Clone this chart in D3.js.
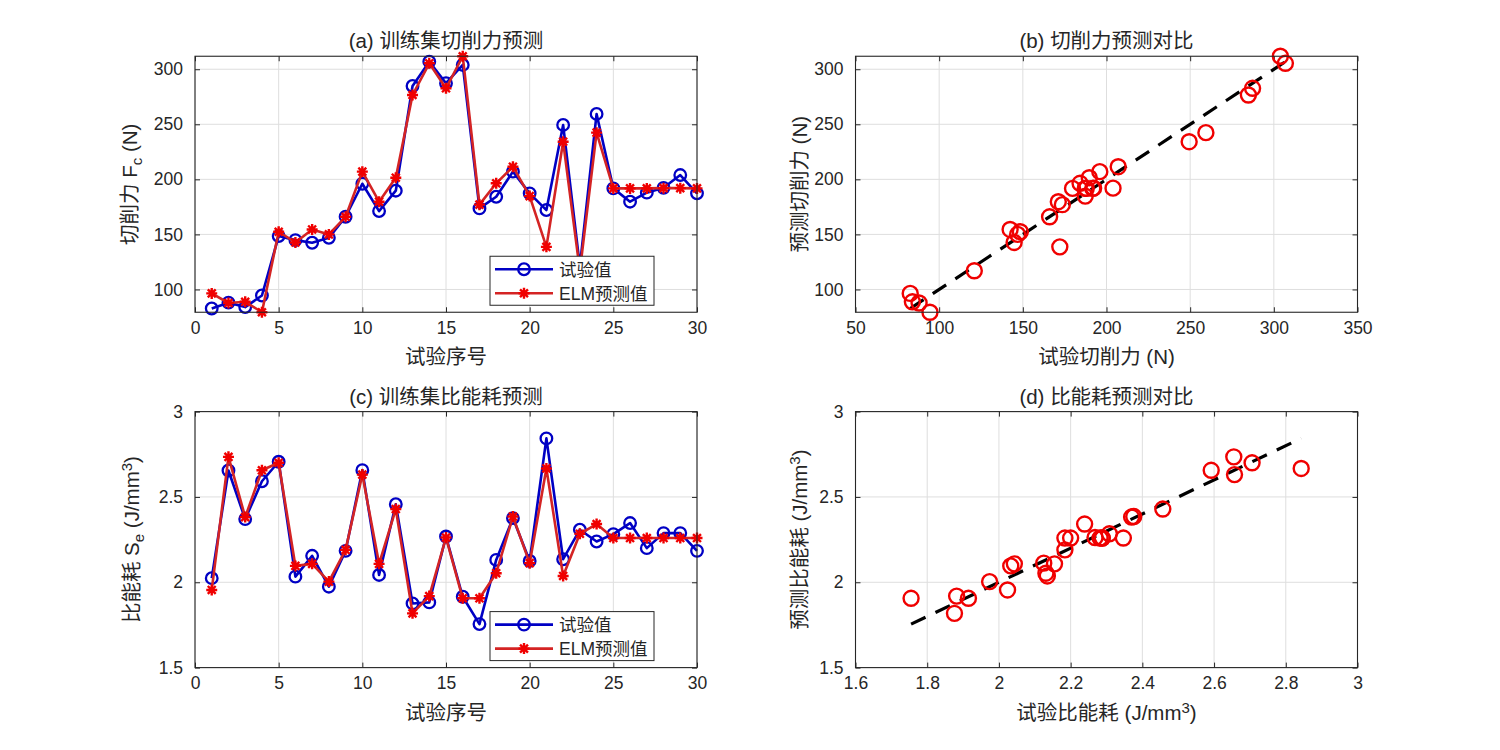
<!DOCTYPE html>
<html>
<head>
<meta charset="utf-8">
<script src="https://cdn.jsdelivr.net/npm/d3@7"></script>
<style>
body { margin: 0; background: #fff; }
svg text { font-family: "Liberation Sans", Arial, "Noto Sans CJK SC", sans-serif; fill: #262626; }
</style>
</head>
<body>
<script>
// 试验序号
var idx = d3.range(1, 31);
// 切削力 (N)
var fcTest = [82.7, 88, 84, 94.5, 148.5, 144.8, 142.4, 146.9, 166, 196, 171.2, 189.7, 284.8, 306.9, 287.3,
  303.9, 173.6, 184.2, 207, 187.3, 172.1, 249.4, 121, 259.4, 191.8, 179.7, 187.9, 192.3, 203.9, 187.3];
var fcPred = [96.4, 87.7, 88.8, 79.3, 152.4, 142.7, 154.5, 150, 166, 207, 179.7, 201.5, 276.6, 305.4, 282.7,
  311.8, 177, 196.4, 211.5, 184.8, 138.7, 234.2, 117, 242.4, 191.8, 191.8, 191.8, 192, 192, 191.8];
// 比能耗 (J/mm3)
var seTest = [2.024, 2.655, 2.37, 2.592, 2.706, 2.033, 2.155, 1.974, 2.184, 2.657, 2.043, 2.457, 1.876, 1.882, 2.268,
  1.915, 1.755, 2.131, 2.376, 2.125, 2.843, 2.135, 2.308, 2.239, 2.282, 2.347, 2.2, 2.288, 2.288, 2.184];
var sePred = [1.955, 2.735, 2.382, 2.656, 2.70, 2.096, 2.108, 2.004, 2.19, 2.631, 2.108, 2.429, 1.818, 1.919, 2.262,
  1.906, 1.906, 2.053, 2.385, 2.112, 2.667, 2.037, 2.284, 2.341, 2.259, 2.259, 2.259, 2.259, 2.259, 2.259];

var idxTicks = [0, 5, 10, 15, 20, 25, 30];
var fcTicks = [100, 150, 200, 250, 300];
var fcXTicks = [50, 100, 150, 200, 250, 300, 350];
var seTicks = [1.5, 2, 2.5, 3];
var seXTicks = [1.6, 1.8, 2, 2.2, 2.4, 2.6, 2.8, 3];
var legendNames = ["试验值", "ELM预测值"];

var BLUE = "#0000c4", REDLINE = "#d42424", RED = "#f00000";

var svg = d3.select("body").append("svg")
  .attr("width", 1500)
  .attr("height", 750);

// star marker like matlab '*'
function starPath(r) {
  var d = "M" + (-r) + ",0L" + r + ",0M0," + (-r) + "L0," + r;
  var k = r * 0.72;
  d += "M" + (-k) + "," + (-k) + "L" + k + "," + k + "M" + (-k) + "," + k + "L" + k + "," + (-k);
  return d;
}

function makeAxes(box, xDomain, yDomain, xTicks, yTicks, fmt) {
  var x = d3.scaleLinear().domain(xDomain).range([box.x, box.x + box.w]);
  var y = d3.scaleLinear().domain(yDomain).range([box.y + box.h, box.y]);
  var g = svg.append("g");
  // grid
  g.selectAll(".gx").data(xTicks).enter().append("line")
    .attr("x1", d => x(d)).attr("x2", d => x(d))
    .attr("y1", box.y).attr("y2", box.y + box.h)
    .attr("stroke", "#dedede").attr("stroke-width", 1);
  g.selectAll(".gy").data(yTicks).enter().append("line")
    .attr("y1", d => y(d)).attr("y2", d => y(d))
    .attr("x1", box.x).attr("x2", box.x + box.w)
    .attr("stroke", "#dedede").attr("stroke-width", 1);
  var axB = d3.axisBottom(x).tickValues(xTicks).tickSizeInner(-5).tickSizeOuter(0).tickPadding(9).tickFormat(fmt);
  var axL = d3.axisLeft(y).tickValues(yTicks).tickSizeInner(-5).tickSizeOuter(0).tickPadding(12).tickFormat(fmt);
  var axT = d3.axisTop(x).tickValues(xTicks).tickSizeInner(-5).tickSizeOuter(0).tickFormat("");
  var axR = d3.axisRight(y).tickValues(yTicks).tickSizeInner(-5).tickSizeOuter(0).tickFormat("");
  var a1 = g.append("g").attr("transform", "translate(0," + (box.y + box.h) + ")").call(axB);
  var a2 = g.append("g").attr("transform", "translate(" + box.x + ",0)").call(axL);
  var a3 = g.append("g").attr("transform", "translate(0," + box.y + ")").call(axT);
  var a4 = g.append("g").attr("transform", "translate(" + (box.x + box.w) + ",0)").call(axR);
  [a1, a2, a3, a4].forEach(function(a) {
    a.selectAll("path").remove();
    a.selectAll("line").attr("stroke", "#262626");
    a.selectAll("text").attr("font-size", 17.5).attr("fill", "#262626");
  });
  var plot = svg.append("g");
  var frame = svg.append("rect")
    .attr("x", box.x).attr("y", box.y).attr("width", box.w).attr("height", box.h)
    .attr("fill", "none").attr("stroke", "#262626").attr("stroke-width", 1.1);
  return { x: x, y: y, g: plot, box: box };
}

function addTitle(ax, txt) {
  svg.append("text").attr("x", ax.box.x + ax.box.w / 2).attr("y", ax.box.y - 8)
    .attr("text-anchor", "middle").attr("font-size", 20.5).text(txt);
}

// label with optional sub/sup pieces: [[text, kind], ...]
function addLabel(xp, yp, parts, rotate) {
  var t = svg.append("text").attr("text-anchor", "middle").attr("font-size", 20.5)
    .attr("transform", "translate(" + xp + "," + yp + ")" + (rotate ? " rotate(-90)" : ""));
  parts.forEach(function(p) {
    var s = t.append("tspan").text(p[0]);
    if (p[1] == "sub") s.attr("baseline-shift", "-30%").attr("font-size", 15);
    if (p[1] == "sup") s.attr("baseline-shift", "45%").attr("font-size", 15);
  });
  return t;
}

function linePanel(box, test, pred, yDomain, yTicks, fmt) {
  var ax = makeAxes(box, [0, 30], yDomain, idxTicks, yTicks, fmt);
  var line = d3.line().x((d, i) => ax.x(idx[i])).y(d => ax.y(d));
  ax.g.append("path").datum(test).attr("d", line)
    .attr("fill", "none").attr("stroke", BLUE).attr("stroke-width", 2.6).attr("stroke-linejoin", "round");
  ax.g.selectAll(".c").data(test).enter().append("circle")
    .attr("cx", (d, i) => ax.x(idx[i])).attr("cy", d => ax.y(d)).attr("r", 5.8)
    .attr("fill", "none").attr("stroke", BLUE).attr("stroke-width", 2.3);
  ax.g.append("path").datum(pred).attr("d", line)
    .attr("fill", "none").attr("stroke", REDLINE).attr("stroke-width", 2.6).attr("stroke-linejoin", "round");
  ax.g.selectAll(".s").data(pred).enter().append("path")
    .attr("transform", (d, i) => "translate(" + ax.x(idx[i]) + "," + ax.y(d) + ")")
    .attr("d", starPath(5.5))
    .attr("fill", "none").attr("stroke", RED).attr("stroke-width", 2.4);

  // legend
  var lw = 164, lh = 49;
  var lx = box.x + 295, ly = box.y + box.h - 7 - lh;
  var lg = svg.append("g");
  lg.append("rect").attr("x", lx).attr("y", ly).attr("width", lw).attr("height", lh)
    .attr("fill", "#fff").attr("stroke", "#262626").attr("stroke-width", 1);
  legendNames.forEach(function(name, i) {
    var yy = ly + 13 + i * 24;
    var col = i == 0 ? BLUE : REDLINE;
    lg.append("line").attr("x1", lx + 5).attr("x2", lx + 63).attr("y1", yy).attr("y2", yy)
      .attr("stroke", col).attr("stroke-width", 2.6);
    if (i == 0) {
      lg.append("circle").attr("cx", lx + 34).attr("cy", yy).attr("r", 5.8)
        .attr("fill", "none").attr("stroke", BLUE).attr("stroke-width", 2.3);
    } else {
      lg.append("path").attr("transform", "translate(" + (lx + 34) + "," + yy + ")").attr("d", starPath(5.5))
        .attr("fill", "none").attr("stroke", RED).attr("stroke-width", 2.4);
    }
    lg.append("text").attr("x", lx + 69).attr("y", yy).attr("dy", "0.36em")
      .attr("font-size", 17.5).attr("fill", "#000").text(name);
  });
  return ax;
}

function scatterPanel(box, test, pred, xDomain, yDomain, xTicks, yTicks, fmt) {
  var ax = makeAxes(box, xDomain, yDomain, xTicks, yTicks, fmt);
  var ext = d3.extent(test);
  ax.g.append("line")
    .attr("x1", ax.x(ext[0])).attr("y1", ax.y(ext[0]))
    .attr("x2", ax.x(ext[1])).attr("y2", ax.y(ext[1]))
    .attr("stroke", "#000").attr("stroke-width", 3.2).attr("stroke-dasharray", "16,11");
  ax.g.selectAll(".p").data(test).enter().append("circle")
    .attr("cx", d => ax.x(d)).attr("cy", (d, i) => ax.y(pred[i])).attr("r", 7.5)
    .attr("fill", "none").attr("stroke", RED).attr("stroke-width", 2.4);
  return ax;
}

var L = 195, R = 855.5, W = 502, H = 256, T1 = 56.25, T2 = 411.6;
var fcExt = d3.extent(fcTest.concat(fcPred));
var fmtN = d3.format("");

// (a)
var axA = linePanel({ x: L, y: T1, w: W, h: H }, fcTest, fcPred, fcExt, fcTicks, fmtN);
addTitle(axA, "(a) 训练集切削力预测");
addLabel(L + W / 2, T1 + H + 52, [["试验序号"]], false);
addLabel(137, T1 + H / 2, [["切削力 F"], ["c", "sub"], [" (N)"]], true);

// (b)
var axB = scatterPanel({ x: R, y: T1, w: W, h: H }, fcTest, fcPred, [50, 350], d3.extent(fcPred), fcXTicks, fcTicks, fmtN);
addTitle(axB, "(b) 切削力预测对比");
addLabel(R + W / 2, T1 + H + 52, [["试验切削力 (N)"]], false);
addLabel(807, T1 + H / 2, [["预测切削力 (N)"]], true);

// (c)
var axC = linePanel({ x: L, y: T2, w: W, h: H }, seTest, sePred, [1.5, 3], seTicks, fmtN);
addTitle(axC, "(c) 训练集比能耗预测");
addLabel(L + W / 2, T2 + H + 52, [["试验序号"]], false);
addLabel(139, T2 + H / 2, [["比能耗 S"], ["e", "sub"], [" (J/mm"], ["3", "sup"], [")"]], true);

// (d)
var axD = scatterPanel({ x: R, y: T2, w: W, h: H }, seTest, sePred, [1.6, 3], [1.5, 3], seXTicks, seTicks, fmtN);
addTitle(axD, "(d) 比能耗预测对比");
addLabel(R + W / 2, T2 + H + 52, [["试验比能耗 (J/mm"], ["3", "sup"], [")"]], false);
addLabel(807, T2 + H / 2, [["预测比能耗 (J/mm"], ["3", "sup"], [")"]], true);
</script>
</body>
</html>
